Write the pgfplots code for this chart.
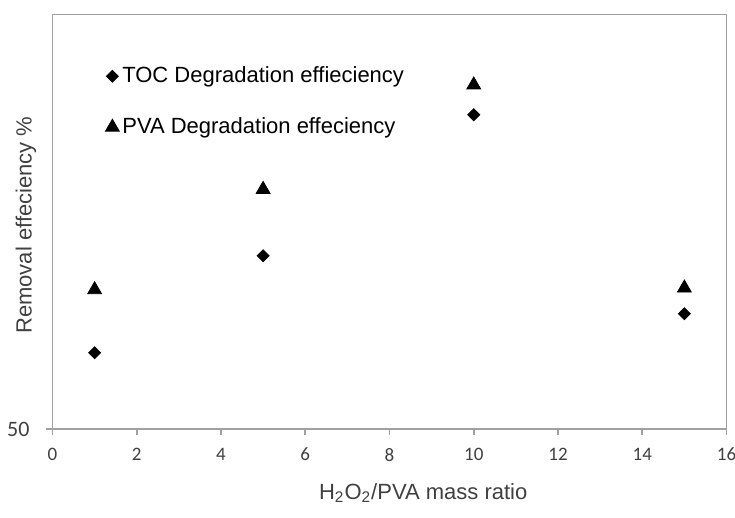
\documentclass[border=0pt]{standalone}
\usepackage{fontspec}
\setmainfont{Liberation Sans}
\newfontfamily\tickfont{Carlito}
\usepackage{pgfplots}
\pgfplotsset{compat=1.18}
\definecolor{axgray}{RGB}{160,160,160}
\definecolor{ticktext}{RGB}{64,64,64}
\pgfplotsset{mylegimg/.style={legend image code/.code={\draw[##1] plot coordinates {(0pt,0pt)};}}}
\begin{document}
\begin{tikzpicture}
\useasboundingbox (-26.25pt,-44.5pt) rectangle (341.25pt,214.5pt);
\begin{axis}[
  at={(0pt,0pt)}, anchor=south west,
  width=337pt, height=207.25pt, scale only axis,
  xmin=0, xmax=16, ymin=50, ymax=100,
  xtick={0,2,...,16}, ytick={50},
  tick align=outside, xtick pos=bottom, ytick pos=left,
  major tick length=3pt,
  axis line style={axgray, line width=0.8pt},
  every tick/.style={axgray, line width=0.8pt},
  /pgf/number format/assume math mode=true,
  xticklabel style={font=\tickfont\fontsize{9.5}{11}\selectfont, text=ticktext, anchor=north, yshift=-3pt},
  yticklabel style={font=\tickfont\fontsize{11}{13}\selectfont, text=ticktext, anchor=east, xshift=-5pt},
  xlabel={H\textsubscript{2}O\textsubscript{2}/PVA mass ratio},
  ylabel={Removal effeciency \%},
  every axis x label/.style={at={([yshift=-32pt]axis description cs:0.55,0)}, anchor=center, font=\fontsize{11}{13}\selectfont, text=ticktext},
  every axis y label/.style={at={([xshift=-13.25pt]axis description cs:0,0.492)}, anchor=center, rotate=90, font=\fontsize{11}{13}\selectfont, text=ticktext},
  legend style={draw=none, fill=none, at={(axis description cs:0.078,0.882)}, anchor=north west,
    font=\fontsize{11}{13}\selectfont, row sep=13pt, inner sep=0pt,
    nodes={inner sep=1.5pt}},
  legend cell align=left,
]
\addplot[only marks, mark=square*, mark size=2.12pt, mark options={rotate=45, fill=black, draw=black}, mylegimg]
  coordinates {(1,59.2) (5,70.9) (10,87.9) (15,63.9)};
\addlegendentry{TOC Degradation effieciency}
\addplot[only marks, mark=triangle*, mark size=4pt, mark options={fill=black, draw=black}, mylegimg]
  coordinates {(1,66.8) (5,78.9) (10,91.5) (15,67.0)};
\addlegendentry{PVA Degradation effeciency}
\end{axis}
\end{tikzpicture}
\end{document}
